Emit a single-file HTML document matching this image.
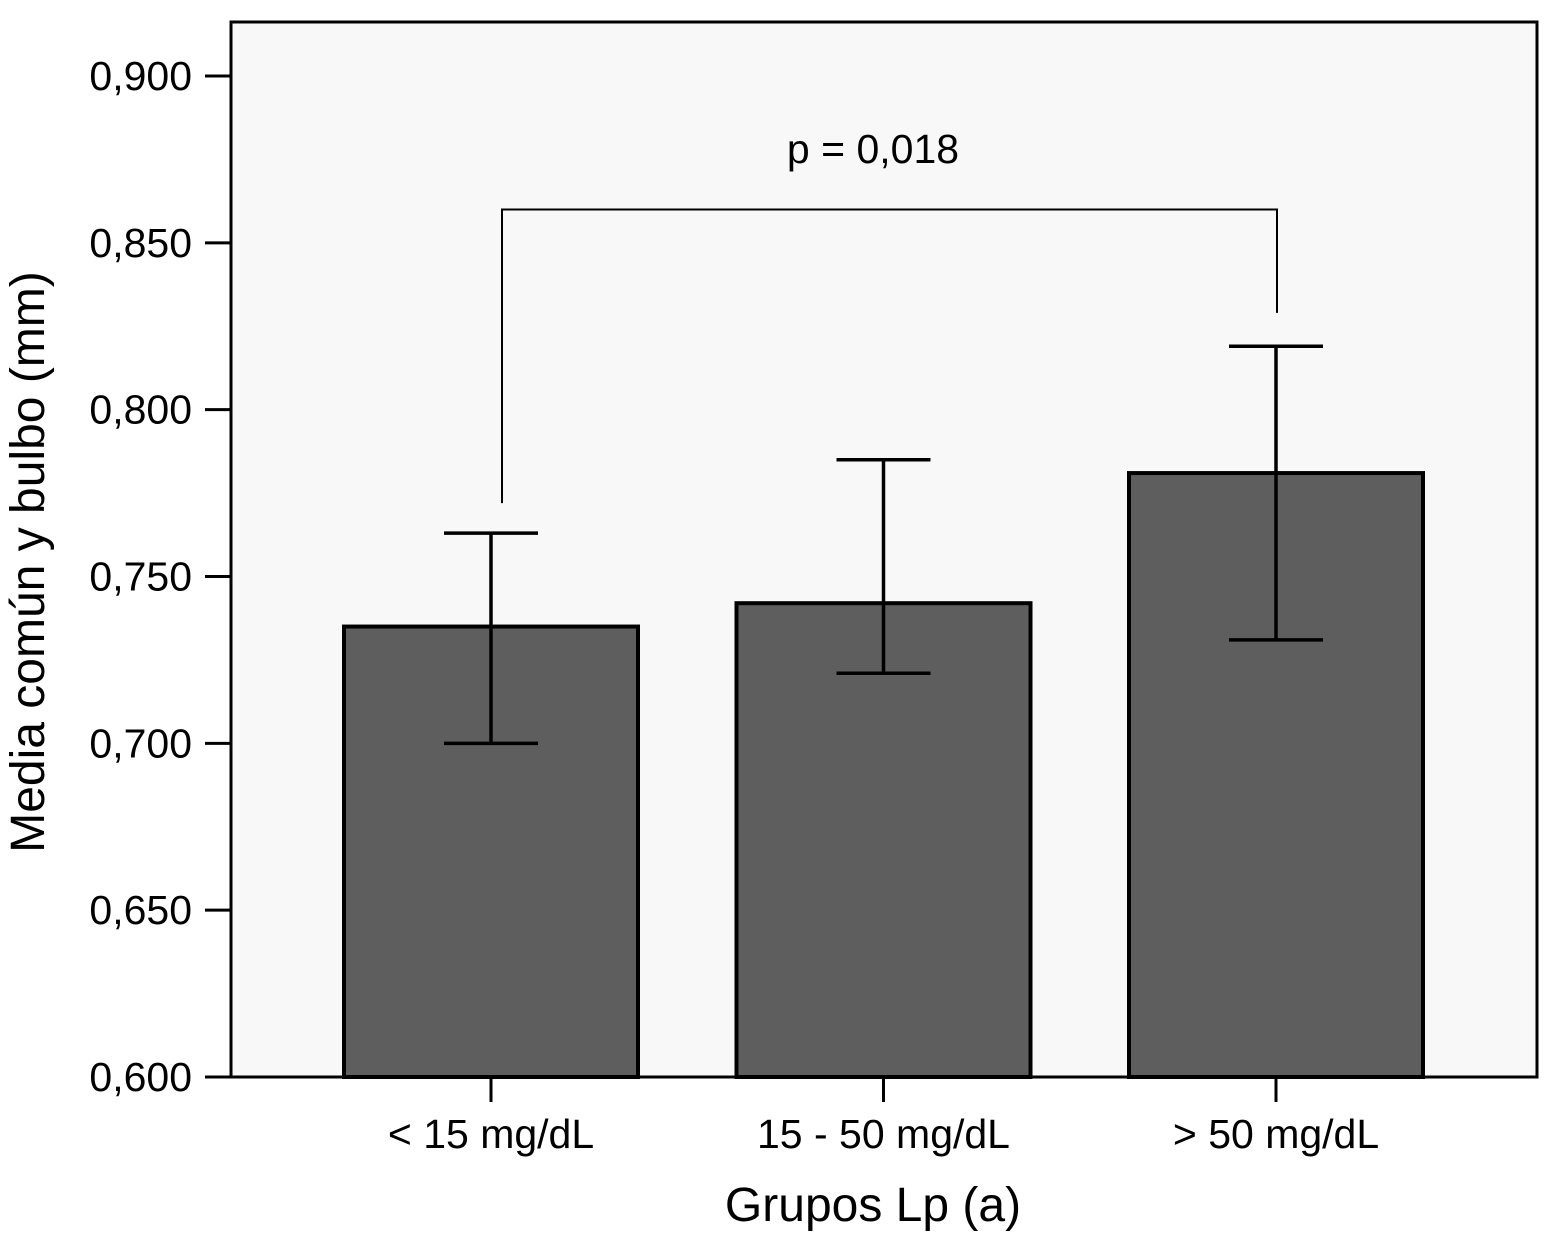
<!DOCTYPE html>
<html><head><meta charset="utf-8"><style>
body{margin:0;background:#fff}
svg text{font-family:"Liberation Sans",sans-serif;fill:#000}
</style></head><body>
<svg id="c" width="1544" height="1231" xmlns="http://www.w3.org/2000/svg">
<rect x="231" y="22" width="1306" height="1055" fill="#f8f8f8" stroke="#000" stroke-width="3"/>
<g id="g"></g>
<text x="873" y="1221" font-size="48" text-anchor="middle">Grupos Lp (a)</text>
<text transform="translate(44,562) rotate(-90)" font-size="48" text-anchor="middle">Media común y bulbo (mm)</text>
<text x="873" y="163" font-size="41" text-anchor="middle">p = 0,018</text>
</svg>
<script>
const categories=["< 15 mg/dL","15 - 50 mg/dL","> 50 mg/dL"];
const means=[0.735,0.742,0.781];
const upper=[0.763,0.785,0.819];
const lower=[0.700,0.721,0.731];
const yTicks=[0.600,0.650,0.700,0.750,0.800,0.850,0.900];
const bracketY=0.860, bracketEnds=[0.772,0.829];
const ns="http://www.w3.org/2000/svg",g=document.getElementById('g');
const y=v=>1077-(v-0.6)/0.3*1001;
const xc=i=>491+i*392.5;
function mk(t,a){const e=document.createElementNS(ns,t);for(const k in a)e.setAttribute(k,a[k]);g.appendChild(e);return e;}
yTicks.forEach(v=>{
 const l=mk('line',{x1:205,x2:231,y1:y(v),y2:y(v),stroke:'#000','stroke-width':3});
 
 
 const t=mk('text',{x:192,y:y(v)+14,'font-size':41,'text-anchor':'end'});
 t.textContent=v.toFixed(3).replace('.',',');
 
 
});
categories.forEach((c,i)=>{
 const x=xc(i);
 const b=mk('rect',{x:x-147,y:y(means[i]),width:294,height:1077-y(means[i]),fill:'#5e5e5e',stroke:'#000','stroke-width':4});
 
 
 const e=mk('path',{d:`M${x},${y(upper[i])}V${y(lower[i])}M${x-47},${y(upper[i])}H${x+47}M${x-47},${y(lower[i])}H${x+47}`,stroke:'#000','stroke-width':3.5,fill:'none'});
 
 
 const tk=mk('line',{x1:x,x2:x,y1:1077,y2:1102,stroke:'#000','stroke-width':3});
 
 
 const t=mk('text',{x:x,y:1148,'font-size':41,'text-anchor':'middle'});
 t.textContent=c;
 
 
});
const br=mk('path',{d:`M${xc(0)+11},${y(bracketEnds[0])}V${y(bracketY)}H${xc(2)+1}V${y(bracketEnds[1])}`,stroke:'#000','stroke-width':2,fill:'none'});


</script>
</body></html>
